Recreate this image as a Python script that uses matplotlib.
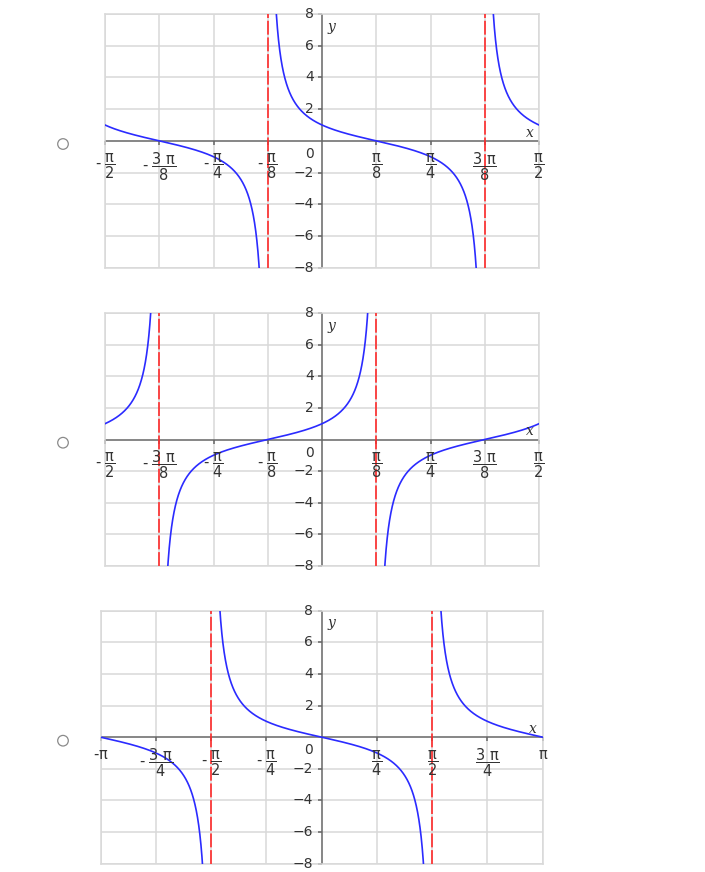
import numpy as np
from numpy import pi
import matplotlib
matplotlib.use('Agg')
import matplotlib.pyplot as plt
from matplotlib.patches import Circle

plt.rcParams['font.family'] = ['DejaVu Sans']
plt.rcParams['mathtext.fontset'] = 'dejavusans'
plt.rcParams['lines.scale_dashes'] = False

W, H = 705, 872

# panel data: x ranges, ticks, labels, asymptotes, curve y = a*tan(b*x + c) or a*cot(b*x + c)
x_ranges = [(-pi/2, pi/2), (-pi/2, pi/2), (-pi, pi)]
x_ticks = [
    [-4*pi/8, -3*pi/8, -2*pi/8, -pi/8, pi/8, 2*pi/8, 3*pi/8, 4*pi/8],
    [-4*pi/8, -3*pi/8, -2*pi/8, -pi/8, pi/8, 2*pi/8, 3*pi/8, 4*pi/8],
    [-pi, -3*pi/4, -pi/2, -pi/4, pi/4, pi/2, 3*pi/4, pi],
]
P = r'\mathrm{\pi}'
x_labels = [
    [r'$\text{-}\;\dfrac{%s}{2}$' % P, r'$\text{-}\;\dfrac{3\ %s}{8}$' % P,
     r'$\text{-}\;\dfrac{%s}{4}$' % P, r'$\text{-}\;\dfrac{%s}{8}$' % P,
     r'$\dfrac{%s}{8}$' % P, r'$\dfrac{%s}{4}$' % P, r'$\dfrac{3\ %s}{8}$' % P, r'$\dfrac{%s}{2}$' % P],
    [r'$\text{-}\;\dfrac{%s}{2}$' % P, r'$\text{-}\;\dfrac{3\ %s}{8}$' % P,
     r'$\text{-}\;\dfrac{%s}{4}$' % P, r'$\text{-}\;\dfrac{%s}{8}$' % P,
     r'$\dfrac{%s}{8}$' % P, r'$\dfrac{%s}{4}$' % P, r'$\dfrac{3\ %s}{8}$' % P, r'$\dfrac{%s}{2}$' % P],
    [r'$\text{-}%s$' % P, r'$\text{-}\;\dfrac{3\ %s}{4}$' % P,
     r'$\text{-}\;\dfrac{%s}{2}$' % P, r'$\text{-}\;\dfrac{%s}{4}$' % P,
     r'$\dfrac{%s}{4}$' % P, r'$\dfrac{%s}{2}$' % P, r'$\dfrac{3\ %s}{4}$' % P, r'$%s$' % P],
]
asymptotes = [[-pi/8, 3*pi/8], [-3*pi/8, pi/8], [-pi/2, pi/2]]
curve_kind = ['cot', 'tan', 'tan']
curve_a = [1, 1, -1]
curve_b = [2, 2, 1]
curve_c = [pi/4, pi/4, 0]

y_ticks = [-8, -6, -4, -2, 2, 4, 6, 8]
y_labels = ['\u22128', '\u22126', '\u22124', '\u22122', '2', '4', '6', '8']

# pixel boxes (left, top, right, bottom) and radio button centres
boxes = [(105, 14, 539, 267.7), (105, 313.3, 539, 565.7), (100.7, 610.7, 542.7, 863.7)]
radio_y = [144, 442.7, 740.7]

grid_c = '#d9d9d9'
axis_c = '#666666'
text_c = '#333333'

fig = plt.figure(figsize=(W/100, H/100), dpi=100)

for i in range(3):
    l, t, r, b = boxes[i]
    ax = fig.add_axes([l/W, 1 - b/H, (r - l)/W, (b - t)/H])
    x0, x1 = x_ranges[i]
    ax.set_xlim(x0, x1)
    ax.set_ylim(-8, 8)
    ax.set_xticks([])
    ax.set_yticks([])
    for s in ax.spines.values():
        s.set_color(grid_c)
        s.set_linewidth(1.1)
    # grid
    for xv in x_ticks[i]:
        ax.axvline(xv, color=grid_c, lw=1.1, zorder=0)
    for yv in y_ticks:
        ax.axhline(yv, color=grid_c, lw=1.1, zorder=0)
    # axes
    ax.axhline(0, color=axis_c, lw=1.1, zorder=2)
    ax.axvline(0, color=axis_c, lw=1.1, zorder=2)
    ax.plot(x_ticks[i], np.zeros(len(x_ticks[i])), ls='none', marker=3,
            ms=3, mew=1.1, color=axis_c, zorder=2, clip_on=False)
    ax.plot(np.zeros(len(y_ticks)), y_ticks, ls='none', marker=0,
            ms=3, mew=1.1, color=axis_c, zorder=2, clip_on=False)

    # curve
    x = np.linspace(x0, x1, 4000)
    arg = curve_b[i]*x + curve_c[i]
    if curve_kind[i] == 'tan':
        y = curve_a[i]*np.tan(arg)
    else:
        y = curve_a[i]/np.tan(arg)
    y[np.abs(y) > 40] = np.nan
    ax.plot(x, y, color='#2b2bff', lw=1.2, zorder=4)

    # asymptotes
    for xa in asymptotes[i]:
        ax.axvline(xa, color='#ff2a2a', lw=1.2, dashes=(10, 2), zorder=3)

    # x tick labels
    for xv, lab in zip(x_ticks[i], x_labels[i]):
        if 'dfrac' in lab:
            dy = -18.5
        else:
            dy = -12.5
        ax.annotate(lab, (xv, 0), xytext=(0, dy), textcoords='offset points',
                    ha='center', va='center', fontsize=10.5, color=text_c,
                    annotation_clip=False, zorder=5)
    # y tick labels
    for yv, lab in zip(y_ticks, y_labels):
        ax.annotate(lab, (0, yv), xytext=(-6, 0), textcoords='offset points',
                    ha='right', va='center', fontsize=10, color=text_c,
                    annotation_clip=False, zorder=5)
    ax.annotate('0', (0, 0), xytext=(-6, -9.5), textcoords='offset points',
                ha='right', va='center', fontsize=10, color=text_c, zorder=5)
    ax.annotate('y', (0, 8), xytext=(4, -9), textcoords='offset points',
                ha='left', va='center', fontsize=10, style='italic',
                family='DejaVu Serif', color=text_c, zorder=5)
    ax.annotate('x', (x1, 0), xytext=(-4, 6), textcoords='offset points',
                ha='right', va='center', fontsize=10, style='italic',
                family='DejaVu Serif', color=text_c, zorder=5)

# radio buttons
bg = fig.add_axes([0, 0, 1, 1], zorder=-1)
bg.set_xlim(0, W)
bg.set_ylim(H, 0)
bg.axis('off')
for ry in radio_y:
    bg.add_patch(Circle((63, ry), 5.3, fill=False, ec='#8a8a8a', lw=0.9))

fig.savefig('out.png', dpi=100)
